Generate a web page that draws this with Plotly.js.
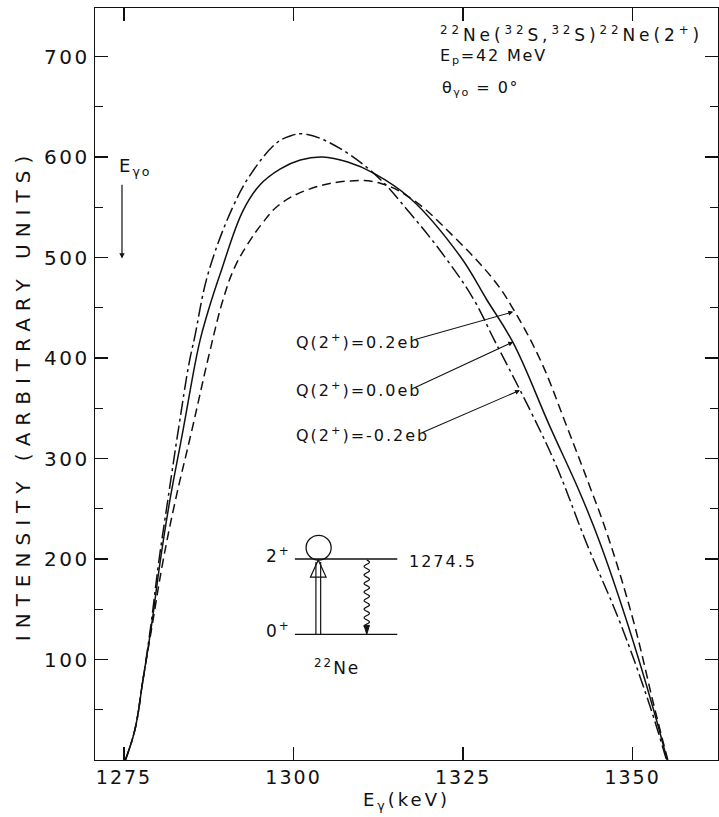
<!DOCTYPE html>
<html><head><meta charset="utf-8">
<script src="https://cdn.plot.ly/plotly-3.0.1.min.js"></script>
<style>
body{margin:0;background:#fff}
.ytick text{letter-spacing:2.5px}
.xtick text{letter-spacing:2px}
.g-ytitle text{letter-spacing:7px}
.g-ytitle{transform:translate(0px,11px)}
.g-xtitle text{letter-spacing:3px}
</style>
</head><body><div id="chart" style="width:719px;height:817px"></div>
<script>
// Q(2+) = +0.2 eb (dashed)
const xQpos = [1275.2,1276.6,1277.8,1279.2,1280.7,1282.5,1285.0,1287.6,1289.6,1291.3,1293.3,1295.5,1297.8,1301.9,1307.8,1312.8,1317.7,1323.6,1329.5,1332.2,1336.4,1340.3,1343.7,1346.2,1350.1,1353.3,1355.2];
const yQpos = [0,30,80,136,196,256,328,405,458,490,514,535,552,567,576,574,557,521,478,451,398,332,272,226,139,50,0];
// Q(2+) = 0.0 eb (solid)
const xQzero = [1275.2,1276.6,1277.8,1279.1,1280.3,1281.7,1283.7,1285.5,1286.3,1287.6,1289.2,1292.5,1295.0,1298.0,1301.0,1304.3,1308.0,1311.8,1317.2,1324.6,1328.5,1332.4,1337.8,1342.3,1345.2,1349.1,1353.1,1355.1];
const yQzero = [0,30,80,136,196,256,328,395,420,451,484,546,572,588,597,600,595,584,559,501,458,415,332,265,216,139,50,0];
// Q(2+) = -0.2 eb (dash-dot)
const xQneg = [1275.2,1276.6,1277.8,1279.0,1280.1,1281.4,1283.0,1284.6,1285.4,1287.4,1291.1,1293.8,1297.5,1299.5,1301.5,1305.4,1311.8,1317.2,1322.6,1326.6,1329.6,1334.9,1338.8,1343.2,1348.2,1352.6,1355.0];
const yQneg = [0,30,80,136,196,256,328,395,420,484,551,584,614,621,623,614,584,544,498,458,418,348,292,216,136,53,0];

const xTicks = [1275,1300,1325,1350];
const yTicks = [100,200,300,400,500,600,700];
const yMinor = [50,150,250,350,450,550,650];

const FONT = 'DejaVu Sans, Verdana, sans-serif';
const lw = 1.5;
const traces = [
  {x:xQpos, y:yQpos, mode:'lines', line:{color:'#111', width:lw, dash:'9px,5px', shape:'spline', smoothing:1.1}, hoverinfo:'skip'},
  {x:xQzero, y:yQzero, mode:'lines', line:{color:'#111', width:lw, shape:'spline', smoothing:1.1}, hoverinfo:'skip'},
  {x:xQneg, y:yQneg, mode:'lines', line:{color:'#111', width:lw, dash:'14px,4px,3px,4px', shape:'spline', smoothing:1.1}, hoverinfo:'skip'}
];

// wavy gamma line for the level scheme
let wave = '';
const wx = 1310.8, wTop = 199, wBot = 131, amp = 0.4, period = 8.5;
for (let i = 0; i <= 80; i++) {
  const yy = wTop - (wTop - wBot) * i / 80;
  const xx = wx + amp * Math.sin(2 * Math.PI * (wTop - yy) / period);
  wave += (i === 0 ? 'M ' : ' L ') + xx.toFixed(3) + ',' + yy.toFixed(2);
}

const shapes = [
  {type:'line', xref:'x', yref:'y', x0:1300.2, x1:1315.3, y0:200, y1:200, line:{color:'#111', width:1.3}},
  {type:'line', xref:'x', yref:'y', x0:1300.2, x1:1315.3, y0:125, y1:125, line:{color:'#111', width:1.3}},
  {type:'circle', xref:'x', yref:'y', x0:1301.85, x1:1305.55, y0:199, y1:223.5, line:{color:'#111', width:1.3}},
  {type:'line', xref:'x', yref:'y', x0:1303.3, x1:1303.3, y0:125, y1:197, line:{color:'#111', width:1.2}},
  {type:'line', xref:'x', yref:'y', x0:1304.0, x1:1304.0, y0:125, y1:197, line:{color:'#111', width:1.2}},
  {type:'path', xref:'x', yref:'y', path:'M 1302.5,182 L 1303.65,199 L 1304.8,182 Z', line:{color:'#111', width:1.2}},
  {type:'path', xref:'x', yref:'y', path:wave, line:{color:'#111', width:1.2}},
  {type:'path', xref:'x', yref:'y', path:'M 1310.4,134 L 1311.2,134 L 1310.8,125 Z', fillcolor:'#111', line:{color:'#111', width:1}}
];

const sp = (ls, t) => '<span style="letter-spacing:' + ls + 'px">' + t + '</span>';
const tf = {family:FONT, size:16, color:'#111'};
const tfBig = {family:FONT, size:17, color:'#111'};
const annotations = [
  {xref:'x', yref:'y', x:1321.3, y:722, xanchor:'left', yanchor:'middle', showarrow:false, font:tfBig,
   text:sp(3.9, '<sup>22</sup>Ne(<sup>32</sup>S,<sup>32</sup>S)<sup>22</sup>Ne(2<sup>+</sup>)')},
  {xref:'x', yref:'y', x:1321.3, y:700, xanchor:'left', yanchor:'middle', showarrow:false, font:tf,
   text:sp(1.8, 'E<sub>p</sub>=42 MeV')},
  {xref:'x', yref:'y', x:1321.6, y:668, xanchor:'left', yanchor:'middle', showarrow:false, font:tf,
   text:sp(1.5, 'θ<sub>γo</sub> = 0°')},
  {xref:'x', yref:'y', x:1273.9, y:590, xanchor:'left', yanchor:'middle', showarrow:false, font:{family:FONT, size:18, color:'#111'},
   text:sp(2, 'E<sub>γo</sub>')},
  {xref:'x', yref:'y', x:1274.7, y:499, axref:'x', ayref:'y', ax:1274.7, ay:574, text:'', showarrow:true,
   arrowhead:2, arrowsize:0.9, arrowwidth:1.2, arrowcolor:'#111'},
  // Q labels
  {xref:'x', yref:'y', x:1300.0, y:416, xanchor:'left', yanchor:'middle', showarrow:false, font:tf,
   text:sp(2, 'Q(2<sup>+</sup>)=0.2eb')},
  {xref:'x', yref:'y', x:1300.0, y:369, xanchor:'left', yanchor:'middle', showarrow:false, font:tf,
   text:sp(2, 'Q(2<sup>+</sup>)=0.0eb')},
  {xref:'x', yref:'y', x:1300.0, y:324, xanchor:'left', yanchor:'middle', showarrow:false, font:tf,
   text:sp(2, 'Q(2<sup>+</sup>)=-0.2eb')},
  {xref:'x', yref:'y', x:1332.4, y:446, axref:'x', ayref:'y', ax:1317.7, ay:418, text:'', showarrow:true,
   arrowhead:2, arrowsize:0.9, arrowwidth:1.1, arrowcolor:'#111'},
  {xref:'x', yref:'y', x:1332.4, y:416, axref:'x', ayref:'y', ax:1317.7, ay:370, text:'', showarrow:true,
   arrowhead:2, arrowsize:0.9, arrowwidth:1.1, arrowcolor:'#111'},
  {xref:'x', yref:'y', x:1333.4, y:368, axref:'x', ayref:'y', ax:1318.7, ay:325, text:'', showarrow:true,
   arrowhead:2, arrowsize:0.9, arrowwidth:1.1, arrowcolor:'#111'},
  // level scheme labels
  {xref:'x', yref:'y', x:1299.9, y:204, xanchor:'right', yanchor:'middle', showarrow:false, font:tfBig,
   text:sp(2, '2<sup>+</sup>')},
  {xref:'x', yref:'y', x:1299.9, y:129, xanchor:'right', yanchor:'middle', showarrow:false, font:tfBig,
   text:sp(2, '0<sup>+</sup>')},
  {xref:'x', yref:'y', x:1316.7, y:198, xanchor:'left', yanchor:'middle', showarrow:false, font:tf,
   text:sp(2, '1274.5')},
  {xref:'x', yref:'y', x:1306.4, y:93, xanchor:'center', yanchor:'middle', showarrow:false, font:tfBig,
   text:sp(2, '<sup>22</sup>Ne')}
];

const axBase = {showline:true, linecolor:'#111', linewidth:1.3, mirror:'ticks', ticks:'inside',
  tickcolor:'#111', tickwidth:1.3, ticklen:13, showgrid:false, zeroline:false,
  tickfont:{family:FONT, size:19, color:'#111'}};

const layout = {
  width:719, height:817,
  margin:{l:95, r:1, t:8, b:57},
  paper_bgcolor:'#fff', plot_bgcolor:'#fff',
  showlegend:false,
  xaxis:Object.assign({}, axBase, {range:[1270.72,1362.6], tickvals:xTicks, ticktext:xTicks.map(String),
    title:{text:'E<sub>γ</sub>(keV)', font:{family:FONT, size:18, color:'#111'}, standoff:6}}),
  yaxis:Object.assign({}, axBase, {range:[0,748.3], tickvals:yTicks, ticktext:yTicks.map(String),
    tickfont:{family:FONT, size:20, color:'#111'},
    minor:{tickvals:yMinor, ticks:'inside', ticklen:8, tickcolor:'#111', tickwidth:1.2},
    title:{text:'INTENSITY (ARBITRARY UNITS)', font:{family:FONT, size:20, color:'#111'}, standoff:8}}),
  shapes:shapes,
  annotations:annotations
};

Plotly.newPlot('chart', traces, layout, {displayModeBar:false, staticPlot:true});
</script></body></html>
